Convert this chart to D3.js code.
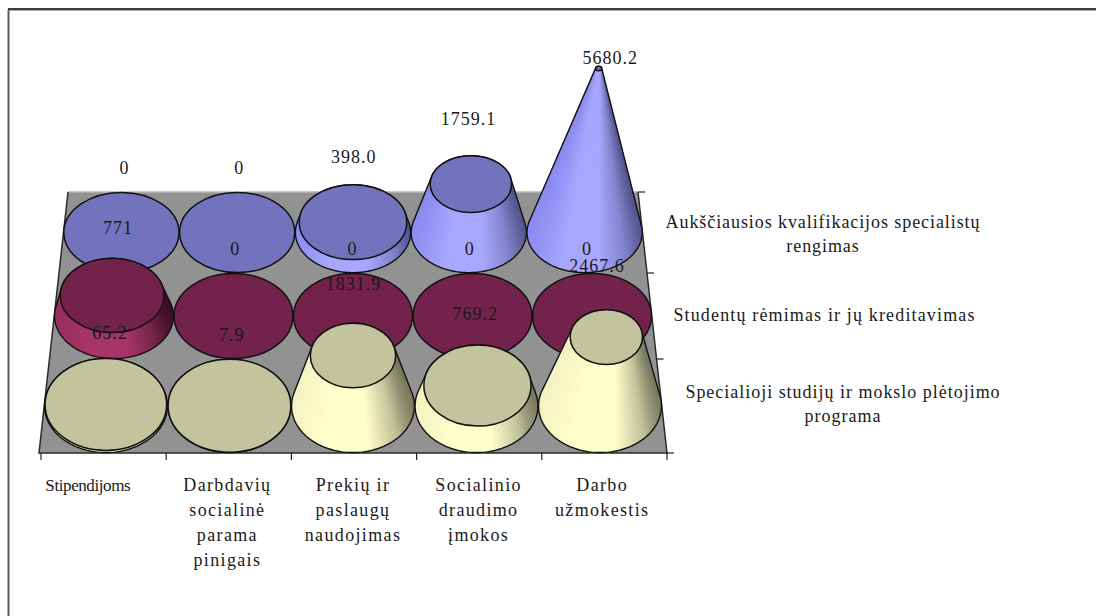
<!DOCTYPE html>
<html><head><meta charset="utf-8">
<script src="https://cdnjs.cloudflare.com/ajax/libs/d3/7.8.5/d3.min.js"></script>
<style>html,body{margin:0;padding:0;background:#fff}svg{display:block}text{font-family:"Liberation Serif",serif;fill:#1a1a1a}</style>
</head><body><svg id="c" width="1096" height="616"></svg>
<script>
const categories = [
  ["Stipendijoms"],
  ["Darbdavių","socialinė","parama","pinigais"],
  ["Prekių ir","paslaugų","naudojimas"],
  ["Socialinio","draudimo","įmokos"],
  ["Darbo","užmokestis"]
];
const seriesNames = [
  ["Specialioji studijų ir mokslo plėtojimo","programa"],
  ["Studentų rėmimas ir jų kreditavimas"],
  ["Aukščiausios kvalifikacijos specialistų","rengimas"]
];
const specialioji = [65.2, 7.9, 1831.9, 769.2, 2467.6];
const studentu    = [771, 0, 0, 0, 0];
const aukstojo    = [0, 0, 398.0, 1759.1, 5680.2];
const specialiojiLabels = ["65.2","7.9","1831.9","769.2","2467.6"];
const studentuLabels    = ["771","0","0","0","0"];
const aukstojoLabels    = ["0","0","398.0","1759.1","5680.2"];
const series = [specialioji, studentu, aukstojo];
const seriesLabels = [specialiojiLabels, studentuLabels, aukstojoLabels];
const axisMax = 6000;

const styles = [
  {top:"#c3c39d", lit:"#ffffcc", mid:"#f4f4c4", dark:"#77775e"},
  {top:"#73234b", lit:"#a83668", mid:"#983060", dark:"#3a1122"},
  {top:"#7373bd", lit:"#a8a8ff", mid:"#8c8cf2", dark:"#55558f"}
];
const shade = styles.map(s=>d3.scaleLinear()
  .domain([0,.3,.62,.85,1])
  .range([s.mid,s.lit,s.lit,d3.interpolateRgb(s.lit,s.dark)(.45),s.dark]));

const svg = d3.select("#c");
const defs = svg.append("defs");

/* frame */
svg.append("path").attr("d","M8.5,616V10").attr("stroke","#5a5a5a").attr("stroke-width",2).attr("fill","none");
svg.append("path").attr("d","M9,10.5H1096").attr("stroke","#aaa").attr("stroke-width",1).attr("fill","none");
svg.append("path").attr("d","M8,9H1096").attr("stroke","#000").attr("stroke-width",1.6).attr("fill","none");

/* floor projection */
const yDepth = d3.scaleLinear().domain([0,1,2,3]).range([453,359,273,192]);
const leftX  = d3.scaleLinear().domain([192,453]).range([68,39]);
const rightX = d3.scaleLinear().domain([192,453]).range([638,667]);
const project = (u,d)=>{
  const y = yDepth(d);
  return [d3.scaleLinear().domain([0,5]).range([leftX(y),rightX(y)])(u), y];
};
const rise = d3.scalePow().exponent(1.04).domain([0,5680.2]).range([0,164]);
const vanishX = 353, lean = 0.00037;
const rowLabelX = [
  d3.scaleLinear().domain([0,4]).range([110,597]),
  d3.scaleLinear().domain([0,4]).range([118,587]),
  d3.scaleLinear().domain([0,4]).range([124.5,583])
];
const labelOffset = [71,67.5,65];
const labelCeil = 58;

/* floor */
const corners = [project(0,0),project(5,0),project(5,3),project(0,3)];
svg.append("polygon").attr("points",corners.map(p=>p.join(",")).join(" ")).attr("fill","#929292").attr("stroke","none");
const line = d3.line();
svg.append("path").attr("d",line([project(0,3),project(5,3)])).attr("stroke","#b5b5b5").attr("stroke-width",1.5).attr("fill","none");
svg.append("path").attr("d",line([project(0,3),project(0,0),project(5,0),project(5,3)])).attr("stroke","#2a2a2a").attr("stroke-width",1.5).attr("fill","none");
/* ticks */
const tickX = d3.scaleLinear().domain([0,5]).range([41,667]);
d3.range(6).forEach(i=>{const y=yDepth(0);
  svg.append("path").attr("d",line([[tickX(i),y],[tickX(i),y+7]])).attr("stroke","#222").attr("stroke-width",1.2);});
d3.range(4).forEach(i=>{const p=project(5,i);
  svg.append("path").attr("d",line([p,[p[0]+7,p[1]]])).attr("stroke","#222").attr("stroke-width",1.2);});

const N = 144;
const onEllipse = (cx,cy,rx,ry,a)=>[cx+rx*Math.cos(a),cy+ry*Math.sin(a)];
const ellipsePts = (cx,cy,rx,ry)=>d3.range(N).map(k=>onEllipse(cx,cy,rx,ry,k/N*2*Math.PI));

const labels = [];
/* bars, back row first */
[2,1,0].forEach(r=>{
  series[r].forEach((v,c)=>{
    const [cx,cy] = project(c+.5,r+.5);
    const W = project(5,r+.5)[0]-project(0,r+.5)[0];
    const rx = W/10*.995;
    const ry = (yDepth(r)-yDepth(r+1))/2*.99;
    const h = rise(v), f = 1-v/axisMax;
    const tx = cx + h*lean*(cx-vanishX), ty = cy-h;
    const trx = rx*f, try_ = ry*f;
    const g = svg.append("g");
    if(v>0){
      const hull = line(d3.polygonHull(ellipsePts(cx,cy,rx,ry).concat(ellipsePts(tx,ty,trx,try_))))+"Z";
      const id = `hull${r}_${c}`;
      defs.append("clipPath").attr("id",id).append("path").attr("d",hull);
      g.append("path").attr("d",hull).attr("fill",styles[r].lit);
      const facets = d3.range(N).map(k=>k/N*2*Math.PI).sort((a,b)=>Math.sin(a)-Math.sin(b));
      const fg = g.append("g").attr("clip-path",`url(#${id})`);
      const da = 2*Math.PI/N;
      facets.forEach(a=>{
        const q = [onEllipse(cx,cy,rx,ry,a),onEllipse(cx,cy,rx,ry,a+da),onEllipse(tx,ty,trx,try_,a+da),onEllipse(tx,ty,trx,try_,a)];
        const col = shade[r]((1+Math.cos(a+da/2))/2);
        fg.append("path").attr("d",line(q)+"Z").attr("fill",col).attr("stroke",col).attr("stroke-width",.6);
      });
      g.append("path").attr("d",hull).attr("fill","none").attr("stroke","#111").attr("stroke-width",1.4).attr("stroke-linejoin","round");
    }
    g.append("ellipse").attr("cx",tx).attr("cy",ty).attr("rx",trx).attr("ry",try_)
      .attr("fill",styles[r].top).attr("stroke","#111").attr("stroke-width",1.5);
    let ly = ty-labelOffset[r], lx = rowLabelX[r](c);
    if(ly<labelCeil){ly=labelCeil; lx=tx+11.5;}
    labels.push({x:lx,y:ly,t:seriesLabels[r][c]});
  });
});

/* data labels */
svg.append("g").selectAll("text").data(labels).join("text")
  .attr("x",d=>d.x).attr("y",d=>d.y+6).attr("text-anchor","middle")
  .attr("font-size",18).attr("letter-spacing",1).text(d=>d.t);

/* category labels */
const catY = d3.scaleLinear().domain([0,1]).range([491,516]);
categories.forEach((lines,i)=>{
  const x = project(i+.5,0)[0] + (i===0?-14:0) + (i===4?-2:0);
  lines.forEach((t,k)=>svg.append("text").attr("x",x).attr("y",catY(k)).attr("text-anchor","middle")
    .attr("font-size",i===0?17:18).attr("letter-spacing",i===0?-.4:1.35).text(t));
});
/* series labels */
const serX = [843,824.5,823], serY = [398,321,228], serSpacing = [.98,1.15,.92];
seriesNames.forEach((lines,i)=>lines.forEach((t,k)=>svg.append("text").attr("x",serX[i]).attr("y",serY[i]+k*24)
    .attr("text-anchor","middle").attr("font-size",18).attr("letter-spacing",serSpacing[i]).text(t)));
</script></body></html>
